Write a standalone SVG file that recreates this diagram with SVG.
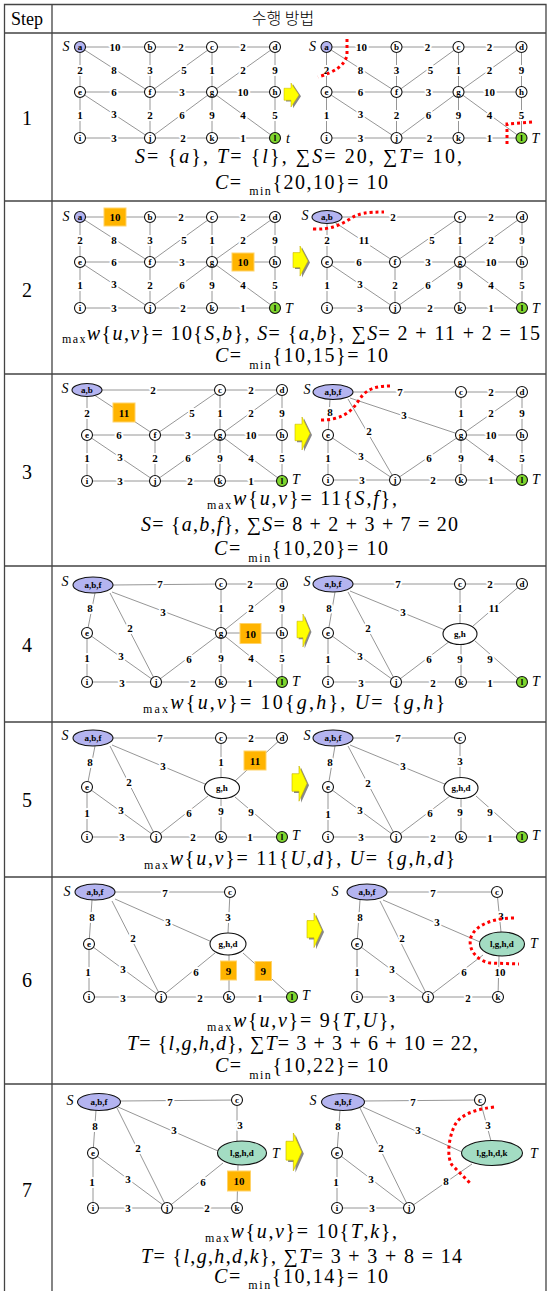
<svg xmlns="http://www.w3.org/2000/svg" xmlns:xlink="http://www.w3.org/1999/xlink" width="551" height="1291" viewBox="0 0 551 1291">
<style>
.tb{stroke:#444;stroke-width:1.3;fill:none}
.ed line{stroke:#8a8a8a;stroke-width:0.9}
.lb{font-family:"Liberation Serif","Times New Roman",serif;font-weight:bold;font-size:11px;text-anchor:middle;dominant-baseline:central;paint-order:stroke;stroke:#fff;stroke-width:4px;stroke-linejoin:round}
.bx{fill:#ffb400;stroke:#ffd36a;stroke-width:1}
.bt{font-family:"Liberation Serif","Times New Roman",serif;font-weight:bold;font-size:11px;text-anchor:middle;dominant-baseline:central}
.nd circle,.nd ellipse{fill:#fff;stroke:#111;stroke-width:1.1}
.nd .sv{fill:#b4b4f0}
.nd .tv{fill:#7fd62e}
.nd .tg{fill:#a3dcc3}
.nt{font-family:"Liberation Serif","Times New Roman",serif;font-weight:bold;font-size:9px;text-anchor:middle;dominant-baseline:central}
.st{font-family:"Liberation Serif","Times New Roman",serif;font-style:italic;font-size:14px;text-anchor:middle;dominant-baseline:central}
.cut{fill:none;stroke:#f00;stroke-width:3;stroke-dasharray:3 3}
.f{font-family:"Liberation Serif","Times New Roman",serif;font-size:20px}
.i{font-style:italic}
.s{font-size:12px}
.num{font-family:"Liberation Serif","Times New Roman",serif;font-size:20px;text-anchor:middle}
</style>
<defs>
<g id="arrow"><polygon points="2,8.5 9,8.5 9,1.5 17,17.5 9,33.5 9,24.5 2,24.5" fill="#888"/><polygon points="0,7 7,7 7,0 15,16 7,32 7,23 0,23" fill="#ffff00" stroke="#c8b400" stroke-width="0.6"/></g>
</defs>
<rect width="551" height="1291" fill="#fff"/>
<g id="table">
<path class="tb" d="M4.5,1291V4.5H546V1291M52,4.5V1291M4.5,33H546M4.5,201H546M4.5,374H546M4.5,566H546M4.5,722H546M4.5,877H546M4.5,1084H546"/>
<text x="27" y="25" font-family="Liberation Serif,Times New Roman,serif" font-size="18" text-anchor="middle">Step</text>
<text x="283" y="24" font-family="'Noto Sans CJK KR',sans-serif" font-weight="300" font-size="16" text-anchor="middle">수행 방법</text>
<text class="num" x="27" y="125">1</text>
<text class="num" x="27" y="297">2</text>
<text class="num" x="27" y="479">3</text>
<text class="num" x="27" y="652">4</text>
<text class="num" x="27" y="807">5</text>
<text class="num" x="27" y="987">6</text>
<text class="num" x="27" y="1197">7</text>
</g>
<g id="arrows">
<use xlink:href="#arrow" transform="translate(284,83) scale(1,0.75)"/>
<use xlink:href="#arrow" transform="translate(293,246) scale(1,0.94)"/>
<use xlink:href="#arrow" transform="translate(295,417) scale(1,1.03)"/>
<use xlink:href="#arrow" transform="translate(297,614) scale(0.85,1.03)"/>
<use xlink:href="#arrow" transform="translate(292,766) scale(1,1.1)"/>
<use xlink:href="#arrow" transform="translate(307,913) scale(1,1.08)"/>
<use xlink:href="#arrow" transform="translate(286,1133) scale(1.05,1.18)"/>
</g>

<!-- Step 1 left -->
<g id="g1L">
<g class="ed" id="e1L">
<line x1="80" y1="47" x2="150" y2="47"/><line x1="150" y1="47" x2="212" y2="47"/><line x1="212" y1="47" x2="275" y2="47"/>
<line x1="80" y1="47" x2="80" y2="92"/><line x1="80" y1="47" x2="150" y2="92"/><line x1="150" y1="47" x2="150" y2="92"/><line x1="212" y1="47" x2="150" y2="92"/><line x1="212" y1="47" x2="212" y2="92"/><line x1="275" y1="47" x2="212" y2="92"/><line x1="275" y1="47" x2="275" y2="92"/>
<line x1="80" y1="92" x2="150" y2="92"/><line x1="150" y1="92" x2="212" y2="92"/><line x1="212" y1="92" x2="275" y2="92"/>
<line x1="80" y1="92" x2="80" y2="138"/><line x1="80" y1="92" x2="150" y2="138"/><line x1="150" y1="92" x2="150" y2="138"/><line x1="212" y1="92" x2="150" y2="138"/><line x1="212" y1="92" x2="212" y2="138"/><line x1="212" y1="92" x2="275" y2="138"/><line x1="275" y1="92" x2="275" y2="138"/>
<line x1="80" y1="138" x2="150" y2="138"/><line x1="150" y1="138" x2="212" y2="138"/><line x1="212" y1="138" x2="275" y2="138"/>
<text class="lb" x="115" y="47">10</text><text class="lb" x="181" y="47">2</text><text class="lb" x="243" y="47">2</text>
<text class="lb" x="80" y="69.5">2</text><text class="lb" x="114" y="69.5">8</text><text class="lb" x="150" y="69.5">3</text><text class="lb" x="184" y="69.5">5</text><text class="lb" x="212" y="69.5">1</text><text class="lb" x="243" y="69.5">2</text><text class="lb" x="275" y="69.5">9</text>
<text class="lb" x="114" y="92">6</text><text class="lb" x="182" y="92">3</text><text class="lb" x="243" y="92">10</text>
<text class="lb" x="80" y="115">1</text><text class="lb" x="114" y="114">3</text><text class="lb" x="150" y="115">2</text><text class="lb" x="182" y="115">6</text><text class="lb" x="212" y="115">9</text><text class="lb" x="243" y="115">4</text><text class="lb" x="275" y="115">5</text>
<text class="lb" x="114" y="138">3</text><text class="lb" x="183" y="138">2</text><text class="lb" x="243" y="138">1</text>
</g>
<g id="n1L-a" class="nd"><circle class="sv" cx="80" cy="47" r="5.5"/><text class="nt" x="80" y="47">a</text></g>
<g id="n1L-b" class="nd"><circle cx="150" cy="47" r="5.5"/><text class="nt" x="150" y="47">b</text></g>
<g id="n1L-c" class="nd"><circle cx="212" cy="47" r="5.5"/><text class="nt" x="212" y="47">c</text></g>
<g id="n1L-d" class="nd"><circle cx="275" cy="47" r="5.5"/><text class="nt" x="275" y="47">d</text></g>
<g id="n1L-e" class="nd"><circle cx="80" cy="92" r="5.5"/><text class="nt" x="80" y="92">e</text></g>
<g id="n1L-f" class="nd"><circle cx="150" cy="92" r="5.5"/><text class="nt" x="150" y="92">f</text></g>
<g id="n1L-g" class="nd"><circle cx="212" cy="92" r="5.5"/><text class="nt" x="212" y="92">g</text></g>
<g id="n1L-h" class="nd"><circle cx="275" cy="92" r="5.5"/><text class="nt" x="275" y="92">h</text></g>
<g id="n1L-i" class="nd"><circle cx="80" cy="138" r="5.5"/><text class="nt" x="80" y="138">i</text></g>
<g id="n1L-j" class="nd"><circle cx="150" cy="138" r="5.5"/><text class="nt" x="150" y="138">j</text></g>
<g id="n1L-k" class="nd"><circle cx="212" cy="138" r="5.5"/><text class="nt" x="212" y="138">k</text></g>
<g id="n1L-l" class="nd"><circle class="tv" cx="275" cy="138" r="5.5"/><text class="nt" x="275" y="138">l</text></g>
<text class="st" x="66" y="46">S</text><text class="st" x="288" y="138">t</text>
</g>

<!-- Step 1 right -->
<g id="g1R" transform="translate(246.5,0)">
<g class="ed" id="e1R">
<line x1="80" y1="47" x2="150" y2="47"/><line x1="150" y1="47" x2="212" y2="47"/><line x1="212" y1="47" x2="275" y2="47"/>
<line x1="80" y1="47" x2="80" y2="92"/><line x1="80" y1="47" x2="150" y2="92"/><line x1="150" y1="47" x2="150" y2="92"/><line x1="212" y1="47" x2="150" y2="92"/><line x1="212" y1="47" x2="212" y2="92"/><line x1="275" y1="47" x2="212" y2="92"/><line x1="275" y1="47" x2="275" y2="92"/>
<line x1="80" y1="92" x2="150" y2="92"/><line x1="150" y1="92" x2="212" y2="92"/><line x1="212" y1="92" x2="275" y2="92"/>
<line x1="80" y1="92" x2="80" y2="138"/><line x1="80" y1="92" x2="150" y2="138"/><line x1="150" y1="92" x2="150" y2="138"/><line x1="212" y1="92" x2="150" y2="138"/><line x1="212" y1="92" x2="212" y2="138"/><line x1="212" y1="92" x2="275" y2="138"/><line x1="275" y1="92" x2="275" y2="138"/>
<line x1="80" y1="138" x2="150" y2="138"/><line x1="150" y1="138" x2="212" y2="138"/><line x1="212" y1="138" x2="275" y2="138"/>
<text class="lb" x="115" y="47">10</text><text class="lb" x="181" y="47">2</text><text class="lb" x="243" y="47">2</text>
<text class="lb" x="80" y="69.5">2</text><text class="lb" x="114" y="69.5">8</text><text class="lb" x="150" y="69.5">3</text><text class="lb" x="184" y="69.5">5</text><text class="lb" x="212" y="69.5">1</text><text class="lb" x="243" y="69.5">2</text><text class="lb" x="275" y="69.5">9</text>
<text class="lb" x="114" y="92">6</text><text class="lb" x="182" y="92">3</text><text class="lb" x="243" y="92">10</text>
<text class="lb" x="80" y="115">1</text><text class="lb" x="114" y="114">3</text><text class="lb" x="150" y="115">2</text><text class="lb" x="182" y="115">6</text><text class="lb" x="212" y="115">9</text><text class="lb" x="243" y="115">4</text><text class="lb" x="275" y="115">5</text>
<text class="lb" x="114" y="138">3</text><text class="lb" x="183" y="138">2</text><text class="lb" x="243" y="138">1</text>
</g>
<g id="n1R-a" class="nd"><circle class="sv" cx="80" cy="47" r="5.5"/><text class="nt" x="80" y="47">a</text></g>
<g id="n1R-b" class="nd"><circle cx="150" cy="47" r="5.5"/><text class="nt" x="150" y="47">b</text></g>
<g id="n1R-c" class="nd"><circle cx="212" cy="47" r="5.5"/><text class="nt" x="212" y="47">c</text></g>
<g id="n1R-d" class="nd"><circle cx="275" cy="47" r="5.5"/><text class="nt" x="275" y="47">d</text></g>
<g id="n1R-e" class="nd"><circle cx="80" cy="92" r="5.5"/><text class="nt" x="80" y="92">e</text></g>
<g id="n1R-f" class="nd"><circle cx="150" cy="92" r="5.5"/><text class="nt" x="150" y="92">f</text></g>
<g id="n1R-g" class="nd"><circle cx="212" cy="92" r="5.5"/><text class="nt" x="212" y="92">g</text></g>
<g id="n1R-h" class="nd"><circle cx="275" cy="92" r="5.5"/><text class="nt" x="275" y="92">h</text></g>
<g id="n1R-i" class="nd"><circle cx="80" cy="138" r="5.5"/><text class="nt" x="80" y="138">i</text></g>
<g id="n1R-j" class="nd"><circle cx="150" cy="138" r="5.5"/><text class="nt" x="150" y="138">j</text></g>
<g id="n1R-k" class="nd"><circle cx="212" cy="138" r="5.5"/><text class="nt" x="212" y="138">k</text></g>
<g id="n1R-l" class="nd"><circle class="tv" cx="275" cy="138" r="5.5"/><text class="nt" x="275" y="138">l</text></g>
<text class="st" x="66" y="46">S</text><text class="st" x="289" y="138">T</text>
</g>
<g id="cuts1"><path class="cut" d="M347,39 L347,55 C345,65 335,72 318,77"/><path class="cut" d="M532,122 L507,124 L507,146"/></g>

<!-- Step 2 left -->
<g id="g2L" transform="translate(0,170)">
<g class="ed" id="e2L">
<line x1="80" y1="47" x2="150" y2="47"/><line x1="150" y1="47" x2="212" y2="47"/><line x1="212" y1="47" x2="275" y2="47"/>
<line x1="80" y1="47" x2="80" y2="92"/><line x1="80" y1="47" x2="150" y2="92"/><line x1="150" y1="47" x2="150" y2="92"/><line x1="212" y1="47" x2="150" y2="92"/><line x1="212" y1="47" x2="212" y2="92"/><line x1="275" y1="47" x2="212" y2="92"/><line x1="275" y1="47" x2="275" y2="92"/>
<line x1="80" y1="92" x2="150" y2="92"/><line x1="150" y1="92" x2="212" y2="92"/><line x1="212" y1="92" x2="275" y2="92"/>
<line x1="80" y1="92" x2="80" y2="138"/><line x1="80" y1="92" x2="150" y2="138"/><line x1="150" y1="92" x2="150" y2="138"/><line x1="212" y1="92" x2="150" y2="138"/><line x1="212" y1="92" x2="212" y2="138"/><line x1="212" y1="92" x2="275" y2="138"/><line x1="275" y1="92" x2="275" y2="138"/>
<line x1="80" y1="138" x2="150" y2="138"/><line x1="150" y1="138" x2="212" y2="138"/><line x1="212" y1="138" x2="275" y2="138"/>
<rect class="bx" x="104" y="38" width="22" height="18"/><text class="bt" x="115" y="47">10</text>
<text class="lb" x="181" y="47">2</text><text class="lb" x="243" y="47">2</text>
<text class="lb" x="80" y="69.5">2</text><text class="lb" x="114" y="69.5">8</text><text class="lb" x="150" y="69.5">3</text><text class="lb" x="184" y="69.5">5</text><text class="lb" x="212" y="69.5">1</text><text class="lb" x="243" y="69.5">2</text><text class="lb" x="275" y="69.5">9</text>
<text class="lb" x="114" y="92">6</text><text class="lb" x="182" y="92">3</text>
<rect class="bx" x="232" y="83" width="22" height="18"/><text class="bt" x="243" y="92">10</text>
<text class="lb" x="80" y="115">1</text><text class="lb" x="114" y="114">3</text><text class="lb" x="150" y="115">2</text><text class="lb" x="182" y="115">6</text><text class="lb" x="212" y="115">9</text><text class="lb" x="243" y="115">4</text><text class="lb" x="275" y="115">5</text>
<text class="lb" x="114" y="138">3</text><text class="lb" x="183" y="138">2</text><text class="lb" x="243" y="138">1</text>
</g>
<g id="n2L-a" class="nd"><circle class="sv" cx="80" cy="47" r="5.5"/><text class="nt" x="80" y="47">a</text></g>
<g id="n2L-b" class="nd"><circle cx="150" cy="47" r="5.5"/><text class="nt" x="150" y="47">b</text></g>
<g id="n2L-c" class="nd"><circle cx="212" cy="47" r="5.5"/><text class="nt" x="212" y="47">c</text></g>
<g id="n2L-d" class="nd"><circle cx="275" cy="47" r="5.5"/><text class="nt" x="275" y="47">d</text></g>
<g id="n2L-e" class="nd"><circle cx="80" cy="92" r="5.5"/><text class="nt" x="80" y="92">e</text></g>
<g id="n2L-f" class="nd"><circle cx="150" cy="92" r="5.5"/><text class="nt" x="150" y="92">f</text></g>
<g id="n2L-g" class="nd"><circle cx="212" cy="92" r="5.5"/><text class="nt" x="212" y="92">g</text></g>
<g id="n2L-h" class="nd"><circle cx="275" cy="92" r="5.5"/><text class="nt" x="275" y="92">h</text></g>
<g id="n2L-i" class="nd"><circle cx="80" cy="138" r="5.5"/><text class="nt" x="80" y="138">i</text></g>
<g id="n2L-j" class="nd"><circle cx="150" cy="138" r="5.5"/><text class="nt" x="150" y="138">j</text></g>
<g id="n2L-k" class="nd"><circle cx="212" cy="138" r="5.5"/><text class="nt" x="212" y="138">k</text></g>
<g id="n2L-l" class="nd"><circle class="tv" cx="275" cy="138" r="5.5"/><text class="nt" x="275" y="138">l</text></g>
<text class="st" x="66" y="46">S</text><text class="st" x="289" y="138">T</text>
</g>

<!-- Step 2 right -->
<g id="g2R">
<g class="ed" id="e2R">
<line x1="341" y1="217" x2="460" y2="217"/><line x1="460" y1="217" x2="522" y2="217"/>
<line x1="327" y1="223" x2="327" y2="262"/><line x1="335" y1="222.5" x2="395" y2="262"/><line x1="460" y1="217" x2="395" y2="262"/><line x1="460" y1="217" x2="460" y2="262"/><line x1="522" y1="217" x2="460" y2="262"/><line x1="522" y1="217" x2="522" y2="262"/>
<line x1="327" y1="262" x2="395" y2="262"/><line x1="395" y1="262" x2="460" y2="262"/><line x1="460" y1="262" x2="522" y2="262"/>
<line x1="327" y1="262" x2="327" y2="308"/><line x1="327" y1="262" x2="395" y2="308"/><line x1="395" y1="262" x2="395" y2="308"/><line x1="460" y1="262" x2="395" y2="308"/><line x1="460" y1="262" x2="460" y2="308"/><line x1="460" y1="262" x2="522" y2="308"/><line x1="522" y1="262" x2="522" y2="308"/>
<line x1="327" y1="308" x2="395" y2="308"/><line x1="395" y1="308" x2="460" y2="308"/><line x1="460" y1="308" x2="522" y2="308"/>
<text class="lb" x="393" y="217">2</text><text class="lb" x="491" y="217">2</text>
<text class="lb" x="327" y="239.5">2</text><text class="lb" x="364" y="240">11</text><text class="lb" x="432" y="239.5">5</text><text class="lb" x="460" y="239.5">1</text><text class="lb" x="491" y="239.5">2</text><text class="lb" x="522" y="239.5">9</text>
<text class="lb" x="359" y="262">6</text><text class="lb" x="428" y="262">3</text><text class="lb" x="491" y="262">10</text>
<text class="lb" x="327" y="285">1</text><text class="lb" x="360" y="284">3</text><text class="lb" x="395" y="285">2</text><text class="lb" x="428" y="285">6</text><text class="lb" x="460" y="285">9</text><text class="lb" x="491" y="285">4</text><text class="lb" x="522" y="285">5</text>
<text class="lb" x="360" y="308">3</text><text class="lb" x="430" y="308">2</text><text class="lb" x="491" y="308">1</text>
</g>
<g id="n2R-ab" class="nd"><ellipse class="sv" cx="327" cy="217" rx="15" ry="6.5"/><text class="nt" x="327" y="217">a,b</text></g>
<g id="n2R-c" class="nd"><circle cx="460" cy="217" r="5.5"/><text class="nt" x="460" y="217">c</text></g>
<g id="n2R-d" class="nd"><circle cx="522" cy="217" r="5.5"/><text class="nt" x="522" y="217">d</text></g>
<g id="n2R-e" class="nd"><circle cx="327" cy="262" r="5.5"/><text class="nt" x="327" y="262">e</text></g>
<g id="n2R-f" class="nd"><circle cx="395" cy="262" r="5.5"/><text class="nt" x="395" y="262">f</text></g>
<g id="n2R-g" class="nd"><circle cx="460" cy="262" r="5.5"/><text class="nt" x="460" y="262">g</text></g>
<g id="n2R-h" class="nd"><circle cx="522" cy="262" r="5.5"/><text class="nt" x="522" y="262">h</text></g>
<g id="n2R-i" class="nd"><circle cx="327" cy="308" r="5.5"/><text class="nt" x="327" y="308">i</text></g>
<g id="n2R-j" class="nd"><circle cx="395" cy="308" r="5.5"/><text class="nt" x="395" y="308">j</text></g>
<g id="n2R-k" class="nd"><circle cx="460" cy="308" r="5.5"/><text class="nt" x="460" y="308">k</text></g>
<g id="n2R-l" class="nd"><circle class="tv" cx="522" cy="308" r="5.5"/><text class="nt" x="522" y="308">l</text></g>
<text class="st" x="305" y="215">S</text><text class="st" x="536" y="308">T</text>
</g>
<g id="cuts2"><path class="cut" d="M313,229 C330,230 340,225 350,219 C358,213 368,212 384,212"/></g>

<!-- Step 3 left -->
<g id="g3L" transform="translate(-240,173)">
<g class="ed" id="e3L">
<line x1="341" y1="217" x2="460" y2="217"/><line x1="460" y1="217" x2="522" y2="217"/>
<line x1="327" y1="223" x2="327" y2="262"/><line x1="335" y1="222.5" x2="395" y2="262"/><line x1="460" y1="217" x2="395" y2="262"/><line x1="460" y1="217" x2="460" y2="262"/><line x1="522" y1="217" x2="460" y2="262"/><line x1="522" y1="217" x2="522" y2="262"/>
<line x1="327" y1="262" x2="395" y2="262"/><line x1="395" y1="262" x2="460" y2="262"/><line x1="460" y1="262" x2="522" y2="262"/>
<line x1="327" y1="262" x2="327" y2="308"/><line x1="327" y1="262" x2="395" y2="308"/><line x1="395" y1="262" x2="395" y2="308"/><line x1="460" y1="262" x2="395" y2="308"/><line x1="460" y1="262" x2="460" y2="308"/><line x1="460" y1="262" x2="522" y2="308"/><line x1="522" y1="262" x2="522" y2="308"/>
<line x1="327" y1="308" x2="395" y2="308"/><line x1="395" y1="308" x2="460" y2="308"/><line x1="460" y1="308" x2="522" y2="308"/>
<text class="lb" x="393" y="217">2</text><text class="lb" x="491" y="217">2</text>
<text class="lb" x="327" y="239.5">2</text>
<rect class="bx" x="353" y="230" width="22" height="19"/><text class="bt" x="364" y="239.5">11</text>
<text class="lb" x="432" y="239.5">5</text><text class="lb" x="460" y="239.5">1</text><text class="lb" x="491" y="239.5">2</text><text class="lb" x="522" y="239.5">9</text>
<text class="lb" x="359" y="262">6</text><text class="lb" x="428" y="262">3</text><text class="lb" x="491" y="262">10</text>
<text class="lb" x="327" y="285">1</text><text class="lb" x="360" y="284">3</text><text class="lb" x="395" y="285">2</text><text class="lb" x="428" y="285">6</text><text class="lb" x="460" y="285">9</text><text class="lb" x="491" y="285">4</text><text class="lb" x="522" y="285">5</text>
<text class="lb" x="360" y="308">3</text><text class="lb" x="430" y="308">2</text><text class="lb" x="491" y="308">1</text>
</g>
<g id="n3L-ab" class="nd"><ellipse class="sv" cx="327" cy="217" rx="15" ry="6.5"/><text class="nt" x="327" y="217">a,b</text></g>
<g id="n3L-c" class="nd"><circle cx="460" cy="217" r="5.5"/><text class="nt" x="460" y="217">c</text></g>
<g id="n3L-d" class="nd"><circle cx="522" cy="217" r="5.5"/><text class="nt" x="522" y="217">d</text></g>
<g id="n3L-e" class="nd"><circle cx="327" cy="262" r="5.5"/><text class="nt" x="327" y="262">e</text></g>
<g id="n3L-f" class="nd"><circle cx="395" cy="262" r="5.5"/><text class="nt" x="395" y="262">f</text></g>
<g id="n3L-g" class="nd"><circle cx="460" cy="262" r="5.5"/><text class="nt" x="460" y="262">g</text></g>
<g id="n3L-h" class="nd"><circle cx="522" cy="262" r="5.5"/><text class="nt" x="522" y="262">h</text></g>
<g id="n3L-i" class="nd"><circle cx="327" cy="308" r="5.5"/><text class="nt" x="327" y="308">i</text></g>
<g id="n3L-j" class="nd"><circle cx="395" cy="308" r="5.5"/><text class="nt" x="395" y="308">j</text></g>
<g id="n3L-k" class="nd"><circle cx="460" cy="308" r="5.5"/><text class="nt" x="460" y="308">k</text></g>
<g id="n3L-l" class="nd"><circle class="tv" cx="522" cy="308" r="5.5"/><text class="nt" x="522" y="308">l</text></g>
<text class="st" x="305" y="215">S</text><text class="st" x="536" y="306">T</text>
</g>

<!-- Step 3 right -->
<g id="g3R">
<g class="ed" id="e3R">
<line x1="353" y1="392" x2="461" y2="392"/><line x1="461" y1="392" x2="522" y2="392"/>
<line x1="330" y1="399" x2="328" y2="435"/><line x1="350" y1="398" x2="461" y2="435"/><line x1="348" y1="399" x2="395" y2="480"/>
<line x1="461" y1="392" x2="461" y2="435"/><line x1="522" y1="392" x2="461" y2="435"/><line x1="522" y1="392" x2="522" y2="435"/><line x1="461" y1="435" x2="522" y2="435"/>
<line x1="328" y1="435" x2="328" y2="480"/><line x1="328" y1="435" x2="395" y2="480"/><line x1="461" y1="435" x2="395" y2="480"/><line x1="461" y1="435" x2="461" y2="480"/><line x1="461" y1="435" x2="522" y2="480"/><line x1="522" y1="435" x2="522" y2="480"/>
<line x1="328" y1="480" x2="395" y2="480"/><line x1="395" y1="480" x2="461" y2="480"/><line x1="461" y1="480" x2="522" y2="480"/>
<text class="lb" x="400" y="392">7</text><text class="lb" x="491" y="392">2</text>
<text class="lb" x="330" y="412">8</text><text class="lb" x="404" y="415">3</text><text class="lb" x="369" y="431">2</text>
<text class="lb" x="461" y="413">1</text><text class="lb" x="491" y="413">2</text><text class="lb" x="522" y="413">9</text><text class="lb" x="491" y="435">10</text>
<text class="lb" x="328" y="458">1</text><text class="lb" x="361" y="456">3</text><text class="lb" x="429" y="458">6</text><text class="lb" x="461" y="458">9</text><text class="lb" x="491" y="458">4</text><text class="lb" x="522" y="458">5</text>
<text class="lb" x="362" y="480">3</text><text class="lb" x="433" y="480">2</text><text class="lb" x="491" y="480">1</text>
</g>
<g id="n3R-abf" class="nd"><ellipse class="sv" cx="333" cy="392" rx="20" ry="7.5"/><text class="nt" x="333" y="392">a,b,f</text></g>
<g id="n3R-c" class="nd"><circle cx="461" cy="392" r="5.5"/><text class="nt" x="461" y="392">c</text></g>
<g id="n3R-d" class="nd"><circle cx="522" cy="392" r="5.5"/><text class="nt" x="522" y="392">d</text></g>
<g id="n3R-e" class="nd"><circle cx="328" cy="435" r="5.5"/><text class="nt" x="328" y="435">e</text></g>
<g id="n3R-g" class="nd"><circle cx="461" cy="435" r="5.5"/><text class="nt" x="461" y="435">g</text></g>
<g id="n3R-h" class="nd"><circle cx="522" cy="435" r="5.5"/><text class="nt" x="522" y="435">h</text></g>
<g id="n3R-i" class="nd"><circle cx="328" cy="480" r="5.5"/><text class="nt" x="328" y="480">i</text></g>
<g id="n3R-j" class="nd"><circle cx="395" cy="480" r="5.5"/><text class="nt" x="395" y="480">j</text></g>
<g id="n3R-k" class="nd"><circle cx="461" cy="480" r="5.5"/><text class="nt" x="461" y="480">k</text></g>
<g id="n3R-l" class="nd"><circle class="tv" cx="522" cy="480" r="5.5"/><text class="nt" x="522" y="480">l</text></g>
<text class="st" x="307" y="389">S</text><text class="st" x="536" y="479">T</text>
</g>
<g id="cuts3"><path class="cut" d="M321,420 C340,420 350,413 357,403 C364,392 370,386 390,386"/></g>

<!-- Step 4 left -->
<g id="g4L">
<g class="ed" id="e4L">
<line x1="113" y1="585" x2="221" y2="584"/><line x1="221" y1="584" x2="282" y2="584"/>
<line x1="95" y1="593" x2="87" y2="633"/><line x1="110" y1="593" x2="156" y2="682"/><line x1="112" y1="592" x2="221" y2="633"/>
<line x1="221" y1="584" x2="221" y2="633"/><line x1="282" y1="584" x2="221" y2="633"/><line x1="282" y1="584" x2="282" y2="633"/><line x1="221" y1="633" x2="282" y2="633"/>
<line x1="87" y1="633" x2="87" y2="682"/><line x1="87" y1="633" x2="156" y2="682"/><line x1="221" y1="633" x2="156" y2="682"/><line x1="221" y1="633" x2="221" y2="682"/><line x1="221" y1="633" x2="282" y2="682"/><line x1="282" y1="633" x2="282" y2="682"/>
<line x1="87" y1="682" x2="156" y2="682"/><line x1="156" y1="682" x2="221" y2="682"/><line x1="221" y1="682" x2="282" y2="682"/>
<text class="lb" x="160" y="584">7</text><text class="lb" x="250" y="584">2</text>
<text class="lb" x="90" y="608">8</text><text class="lb" x="130" y="628">2</text><text class="lb" x="163" y="612">3</text>
<text class="lb" x="221" y="608">1</text><text class="lb" x="251" y="608">2</text><text class="lb" x="282" y="608">9</text>
<rect class="bx" x="240" y="623.5" width="21" height="20"/><text class="bt" x="250.5" y="633.5">10</text>
<text class="lb" x="87" y="658">1</text><text class="lb" x="121" y="656">3</text><text class="lb" x="189" y="659">6</text><text class="lb" x="221" y="658">9</text><text class="lb" x="251" y="658">4</text><text class="lb" x="282" y="658">5</text>
<text class="lb" x="122" y="683">3</text><text class="lb" x="193" y="683">2</text><text class="lb" x="250" y="683">1</text>
</g>
<g id="n4L-abf" class="nd"><ellipse class="sv" cx="93" cy="585" rx="20" ry="8"/><text class="nt" x="93" y="585">a,b,f</text></g>
<g id="n4L-c" class="nd"><circle cx="221" cy="584" r="5.5"/><text class="nt" x="221" y="584">c</text></g>
<g id="n4L-d" class="nd"><circle cx="282" cy="584" r="5.5"/><text class="nt" x="282" y="584">d</text></g>
<g id="n4L-e" class="nd"><circle cx="87" cy="633" r="5.5"/><text class="nt" x="87" y="633">e</text></g>
<g id="n4L-g" class="nd"><circle cx="221" cy="633" r="5.5"/><text class="nt" x="221" y="633">g</text></g>
<g id="n4L-h" class="nd"><circle cx="282" cy="633" r="5.5"/><text class="nt" x="282" y="633">h</text></g>
<g id="n4L-i" class="nd"><circle cx="87" cy="682" r="5.5"/><text class="nt" x="87" y="682">i</text></g>
<g id="n4L-j" class="nd"><circle cx="156" cy="682" r="5.5"/><text class="nt" x="156" y="682">j</text></g>
<g id="n4L-k" class="nd"><circle cx="221" cy="682" r="5.5"/><text class="nt" x="221" y="682">k</text></g>
<g id="n4L-l" class="nd"><circle class="tv" cx="282" cy="682" r="5.5"/><text class="nt" x="282" y="682">l</text></g>
<text class="st" x="65" y="581">S</text><text class="st" x="296" y="681">T</text>
</g>

<!-- Step 4 right -->
<g id="g4R">
<g class="ed" id="e4R">
<line x1="353" y1="584" x2="460" y2="584"/><line x1="460" y1="584" x2="522" y2="584"/>
<line x1="335" y1="592" x2="328" y2="633"/><line x1="348" y1="592" x2="396" y2="682"/><line x1="350" y1="591" x2="445" y2="630"/>
<line x1="460" y1="584" x2="460" y2="624"/><line x1="522" y1="584" x2="473" y2="626"/>
<line x1="328" y1="633" x2="328" y2="682"/><line x1="328" y1="633" x2="396" y2="682"/><line x1="450" y1="641" x2="396" y2="682"/><line x1="461" y1="644" x2="461" y2="682"/><line x1="475" y1="641" x2="522" y2="682"/>
<line x1="328" y1="682" x2="396" y2="682"/><line x1="396" y1="682" x2="461" y2="682"/><line x1="461" y1="682" x2="522" y2="682"/>
<text class="lb" x="398" y="584">7</text><text class="lb" x="490" y="584">2</text>
<text class="lb" x="329" y="608">8</text><text class="lb" x="368" y="628">2</text><text class="lb" x="403" y="612">3</text>
<text class="lb" x="460" y="608">1</text><text class="lb" x="494" y="608">11</text>
<text class="lb" x="328" y="659">1</text><text class="lb" x="360" y="656">3</text><text class="lb" x="429" y="659">6</text><text class="lb" x="460" y="659">9</text><text class="lb" x="490" y="659">9</text>
<text class="lb" x="361" y="683">3</text><text class="lb" x="433" y="683">2</text><text class="lb" x="490" y="683">1</text>
</g>
<g id="n4R-abf" class="nd"><ellipse class="sv" cx="333" cy="584" rx="20" ry="8"/><text class="nt" x="333" y="584">a,b,f</text></g>
<g id="n4R-c" class="nd"><circle cx="460" cy="584" r="5.5"/><text class="nt" x="460" y="584">c</text></g>
<g id="n4R-d" class="nd"><circle cx="522" cy="584" r="5.5"/><text class="nt" x="522" y="584">d</text></g>
<g id="n4R-e" class="nd"><circle cx="328" cy="633" r="5.5"/><text class="nt" x="328" y="633">e</text></g>
<g id="n4R-gh" class="nd"><ellipse cx="460" cy="634" rx="17" ry="10.5"/><text class="nt" x="460" y="634">g,h</text></g>
<g id="n4R-i" class="nd"><circle cx="328" cy="682" r="5.5"/><text class="nt" x="328" y="682">i</text></g>
<g id="n4R-j" class="nd"><circle cx="396" cy="682" r="5.5"/><text class="nt" x="396" y="682">j</text></g>
<g id="n4R-k" class="nd"><circle cx="461" cy="682" r="5.5"/><text class="nt" x="461" y="682">k</text></g>
<g id="n4R-l" class="nd"><circle class="tv" cx="522" cy="682" r="5.5"/><text class="nt" x="522" y="682">l</text></g>
<text class="st" x="307" y="581">S</text><text class="st" x="536" y="681">T</text>
</g>

<!-- Step 5 left -->
<g id="g5L">
<g class="ed" id="e5L">
<line x1="113" y1="738" x2="221" y2="738"/><line x1="221" y1="738" x2="282" y2="738"/>
<line x1="95" y1="746" x2="87" y2="787"/><line x1="110" y1="746" x2="156" y2="837"/><line x1="112" y1="745" x2="205" y2="784"/>
<line x1="221" y1="738" x2="221" y2="778"/><line x1="282" y1="738" x2="235" y2="781"/>
<line x1="87" y1="787" x2="87" y2="837"/><line x1="87" y1="787" x2="156" y2="837"/><line x1="208" y1="796" x2="156" y2="837"/><line x1="221" y1="798" x2="221" y2="837"/><line x1="235" y1="797" x2="282" y2="837"/>
<line x1="87" y1="837" x2="156" y2="837"/><line x1="156" y1="837" x2="221" y2="837"/><line x1="221" y1="837" x2="282" y2="837"/>
<text class="lb" x="160" y="738">7</text><text class="lb" x="251" y="738">2</text>
<text class="lb" x="90" y="762">8</text><text class="lb" x="129" y="782">2</text><text class="lb" x="163" y="766">3</text><text class="lb" x="221" y="762">1</text>
<rect class="bx" x="244" y="751" width="22" height="19"/><text class="bt" x="255" y="760.5">11</text>
<text class="lb" x="87" y="813">1</text><text class="lb" x="121" y="810">3</text><text class="lb" x="189" y="813">6</text><text class="lb" x="221" y="811">9</text><text class="lb" x="251" y="812">9</text>
<text class="lb" x="122" y="837">3</text><text class="lb" x="193" y="837">2</text><text class="lb" x="250" y="837">1</text>
</g>
<g id="n5L-abf" class="nd"><ellipse class="sv" cx="93" cy="738" rx="20" ry="8"/><text class="nt" x="93" y="738">a,b,f</text></g>
<g id="n5L-c" class="nd"><circle cx="221" cy="738" r="5.5"/><text class="nt" x="221" y="738">c</text></g>
<g id="n5L-d" class="nd"><circle cx="282" cy="738" r="5.5"/><text class="nt" x="282" y="738">d</text></g>
<g id="n5L-e" class="nd"><circle cx="87" cy="787" r="5.5"/><text class="nt" x="87" y="787">e</text></g>
<g id="n5L-gh" class="nd"><ellipse cx="222" cy="788" rx="17.5" ry="10.5"/><text class="nt" x="222" y="788">g,h</text></g>
<g id="n5L-i" class="nd"><circle cx="87" cy="837" r="5.5"/><text class="nt" x="87" y="837">i</text></g>
<g id="n5L-j" class="nd"><circle cx="156" cy="837" r="5.5"/><text class="nt" x="156" y="837">j</text></g>
<g id="n5L-k" class="nd"><circle cx="221" cy="837" r="5.5"/><text class="nt" x="221" y="837">k</text></g>
<g id="n5L-l" class="nd"><circle class="tv" cx="282" cy="837" r="5.5"/><text class="nt" x="282" y="837">l</text></g>
<text class="st" x="65" y="735">S</text><text class="st" x="296" y="835">T</text>
</g>

<!-- Step 5 right -->
<g id="g5R">
<g class="ed" id="e5R">
<line x1="353" y1="738" x2="460" y2="738"/>
<line x1="335" y1="746" x2="328" y2="787"/><line x1="348" y1="746" x2="396" y2="837"/><line x1="350" y1="745" x2="447" y2="785"/>
<line x1="460" y1="738" x2="460" y2="778"/>
<line x1="328" y1="787" x2="328" y2="837"/><line x1="328" y1="787" x2="396" y2="837"/><line x1="450" y1="796" x2="396" y2="837"/><line x1="461" y1="798" x2="461" y2="837"/><line x1="476" y1="796" x2="522" y2="837"/>
<line x1="328" y1="837" x2="396" y2="837"/><line x1="396" y1="837" x2="461" y2="837"/><line x1="461" y1="837" x2="522" y2="837"/>
<text class="lb" x="398" y="738">7</text>
<text class="lb" x="330" y="762">8</text><text class="lb" x="368" y="783">2</text><text class="lb" x="403" y="766">3</text><text class="lb" x="460" y="761">3</text>
<text class="lb" x="328" y="814">1</text><text class="lb" x="360" y="810">3</text><text class="lb" x="430" y="813">6</text><text class="lb" x="460" y="812">9</text><text class="lb" x="490" y="812">9</text>
<text class="lb" x="361" y="837">3</text><text class="lb" x="433" y="838">2</text><text class="lb" x="490" y="838">1</text>
</g>
<g id="n5R-abf" class="nd"><ellipse class="sv" cx="333" cy="738" rx="20" ry="8"/><text class="nt" x="333" y="738">a,b,f</text></g>
<g id="n5R-c" class="nd"><circle cx="460" cy="738" r="5.5"/><text class="nt" x="460" y="738">c</text></g>
<g id="n5R-e" class="nd"><circle cx="328" cy="787" r="5.5"/><text class="nt" x="328" y="787">e</text></g>
<g id="n5R-ghd" class="nd"><ellipse cx="461" cy="788" rx="17" ry="10.5"/><text class="nt" x="461" y="788">g,h,d</text></g>
<g id="n5R-i" class="nd"><circle cx="328" cy="837" r="5.5"/><text class="nt" x="328" y="837">i</text></g>
<g id="n5R-j" class="nd"><circle cx="396" cy="837" r="5.5"/><text class="nt" x="396" y="837">j</text></g>
<g id="n5R-k" class="nd"><circle cx="461" cy="837" r="5.5"/><text class="nt" x="461" y="837">k</text></g>
<g id="n5R-l" class="nd"><circle class="tv" cx="522" cy="837" r="5.5"/><text class="nt" x="522" y="837">l</text></g>
<text class="st" x="307" y="735">S</text><text class="st" x="536" y="835">T</text>
</g>

<!-- Step 6 left -->
<g id="g6L">
<g class="ed" id="e6L">
<line x1="115" y1="892" x2="230" y2="892"/>
<line x1="92" y1="900" x2="89" y2="944"/><line x1="112" y1="901" x2="161" y2="997"/><line x1="115" y1="899" x2="212" y2="942"/>
<line x1="230" y1="892" x2="228" y2="933"/>
<line x1="89" y1="944" x2="89" y2="997"/><line x1="89" y1="944" x2="161" y2="997"/><line x1="215" y1="953" x2="161" y2="997"/><line x1="229" y1="955" x2="229" y2="997"/><line x1="243" y1="953" x2="292" y2="997"/>
<line x1="89" y1="997" x2="161" y2="997"/><line x1="161" y1="997" x2="229" y2="997"/><line x1="229" y1="997" x2="292" y2="997"/>
<text class="lb" x="165" y="893">7</text>
<text class="lb" x="92" y="917">8</text><text class="lb" x="133" y="938">2</text><text class="lb" x="168" y="922">3</text><text class="lb" x="228" y="917">3</text>
<text class="lb" x="88" y="972">1</text><text class="lb" x="123" y="969">3</text><text class="lb" x="196" y="972">6</text>
<rect class="bx" x="220.5" y="961" width="16" height="19"/><text class="bt" x="228.5" y="970.5">9</text>
<rect class="bx" x="255" y="961.5" width="16.5" height="19"/><text class="bt" x="263.3" y="971">9</text>
<text class="lb" x="123" y="998">3</text><text class="lb" x="200" y="998">2</text><text class="lb" x="260" y="998">1</text>
</g>
<g id="n6L-abf" class="nd"><ellipse class="sv" cx="95" cy="892" rx="20" ry="8"/><text class="nt" x="95" y="892">a,b,f</text></g>
<g id="n6L-c" class="nd"><circle cx="230" cy="892" r="5.5"/><text class="nt" x="230" y="892">c</text></g>
<g id="n6L-e" class="nd"><circle cx="89" cy="944" r="5.5"/><text class="nt" x="89" y="944">e</text></g>
<g id="n6L-ghd" class="nd"><ellipse cx="228" cy="944" rx="18" ry="11"/><text class="nt" x="228" y="944">g,h,d</text></g>
<g id="n6L-i" class="nd"><circle cx="89" cy="997" r="5.5"/><text class="nt" x="89" y="997">i</text></g>
<g id="n6L-j" class="nd"><circle cx="161" cy="997" r="5.5"/><text class="nt" x="161" y="997">j</text></g>
<g id="n6L-k" class="nd"><circle cx="229" cy="997" r="5.5"/><text class="nt" x="229" y="997">k</text></g>
<g id="n6L-l" class="nd"><circle class="tv" cx="292" cy="997" r="5.5"/><text class="nt" x="292" y="997">l</text></g>
<text class="st" x="67" y="891">S</text><text class="st" x="306" y="995">T</text>
</g>

<!-- Step 6 right -->
<g id="g6R">
<g class="ed" id="e6R">
<line x1="387" y1="892" x2="497" y2="892"/>
<line x1="360" y1="900" x2="357" y2="944"/><line x1="380" y1="901" x2="428" y2="997"/><line x1="383" y1="900" x2="480" y2="942"/>
<line x1="497" y1="892" x2="501" y2="932"/>
<line x1="357" y1="944" x2="357" y2="997"/><line x1="357" y1="944" x2="428" y2="997"/><line x1="483" y1="955" x2="428" y2="997"/><line x1="499" y1="956" x2="498" y2="997"/>
<line x1="357" y1="997" x2="428" y2="997"/><line x1="428" y1="997" x2="498" y2="997"/>
<text class="lb" x="433" y="893">7</text>
<text class="lb" x="360" y="917">8</text><text class="lb" x="402" y="938">2</text><text class="lb" x="437" y="922">3</text><text class="lb" x="501" y="916">3</text>
<text class="lb" x="357" y="972">1</text><text class="lb" x="392" y="969">3</text><text class="lb" x="464" y="972">6</text><text class="lb" x="500" y="972">10</text>
<text class="lb" x="392" y="998">3</text><text class="lb" x="468" y="998">2</text>
</g>
<g id="n6R-abf" class="nd"><ellipse class="sv" cx="367" cy="892" rx="20" ry="8"/><text class="nt" x="367" y="892">a,b,f</text></g>
<g id="n6R-c" class="nd"><circle cx="497" cy="892" r="5.5"/><text class="nt" x="497" y="892">c</text></g>
<g id="n6R-e" class="nd"><circle cx="357" cy="944" r="5.5"/><text class="nt" x="357" y="944">e</text></g>
<g id="n6R-lghd" class="nd"><ellipse class="tg" cx="502" cy="944" rx="22.5" ry="12"/><text class="nt" x="502" y="944">l,g,h,d</text></g>
<g id="n6R-i" class="nd"><circle cx="357" cy="997" r="5.5"/><text class="nt" x="357" y="997">i</text></g>
<g id="n6R-j" class="nd"><circle cx="428" cy="997" r="5.5"/><text class="nt" x="428" y="997">j</text></g>
<g id="n6R-k" class="nd"><circle cx="498" cy="997" r="5.5"/><text class="nt" x="498" y="997">k</text></g>
<text class="st" x="335" y="891">S</text><text class="st" x="534" y="943">T</text>
</g>
<g id="cuts6"><path class="cut" d="M514,918 C495,918 476,924 471,937 C467,950 478,961 490,963 L519,964"/></g>

<!-- Step 7 left -->
<g id="g7L">
<g class="ed" id="e7L">
<line x1="120" y1="1101" x2="237" y2="1100"/>
<line x1="96" y1="1110" x2="93" y2="1153"/><line x1="117" y1="1108" x2="167" y2="1208"/><line x1="118" y1="1107" x2="218" y2="1151"/>
<line x1="237" y1="1100" x2="237" y2="1141"/>
<line x1="93" y1="1153" x2="93" y2="1208"/><line x1="93" y1="1153" x2="167" y2="1208"/><line x1="223" y1="1163" x2="167" y2="1208"/><line x1="238" y1="1165" x2="237" y2="1208"/>
<line x1="93" y1="1208" x2="167" y2="1208"/><line x1="167" y1="1208" x2="237" y2="1208"/>
<text class="lb" x="170" y="1102">7</text>
<text class="lb" x="95" y="1126">8</text><text class="lb" x="138" y="1148">2</text><text class="lb" x="174" y="1130">3</text><text class="lb" x="240" y="1125">3</text>
<text class="lb" x="92" y="1182">1</text><text class="lb" x="128" y="1179">3</text><text class="lb" x="203" y="1182">6</text>
<rect class="bx" x="227.5" y="1171" width="23" height="20"/><text class="bt" x="239" y="1181">10</text>
<text class="lb" x="128" y="1208">3</text><text class="lb" x="207" y="1208">2</text>
</g>
<g id="n7L-abf" class="nd"><ellipse class="sv" cx="99" cy="1102" rx="21.5" ry="8.5"/><text class="nt" x="99" y="1102">a,b,f</text></g>
<g id="n7L-c" class="nd"><circle cx="237" cy="1100" r="5.5"/><text class="nt" x="237" y="1100">c</text></g>
<g id="n7L-e" class="nd"><circle cx="93" cy="1153" r="5.5"/><text class="nt" x="93" y="1153">e</text></g>
<g id="n7L-lghd" class="nd"><ellipse class="tg" cx="242" cy="1153" rx="24.5" ry="12"/><text class="nt" x="242" y="1153">l,g,h,d</text></g>
<g id="n7L-i" class="nd"><circle cx="93" cy="1208" r="5.5"/><text class="nt" x="93" y="1208">i</text></g>
<g id="n7L-j" class="nd"><circle cx="167" cy="1208" r="5.5"/><text class="nt" x="167" y="1208">j</text></g>
<g id="n7L-k" class="nd"><circle cx="237" cy="1208" r="5.5"/><text class="nt" x="237" y="1208">k</text></g>
<text class="st" x="70" y="1100">S</text><text class="st" x="276" y="1153">T</text>
</g>

<!-- Step 7 right -->
<g id="g7R">
<g class="ed" id="e7R">
<line x1="364" y1="1101" x2="480" y2="1100"/>
<line x1="340" y1="1110" x2="337" y2="1153"/><line x1="360" y1="1108" x2="409" y2="1208"/><line x1="363" y1="1107" x2="462" y2="1152"/>
<line x1="480" y1="1100" x2="491" y2="1141"/>
<line x1="337" y1="1153" x2="337" y2="1208"/><line x1="337" y1="1153" x2="409" y2="1208"/><line x1="472" y1="1164" x2="409" y2="1208"/>
<line x1="337" y1="1208" x2="409" y2="1208"/>
<text class="lb" x="413" y="1102">7</text>
<text class="lb" x="338" y="1126">8</text><text class="lb" x="381" y="1148">2</text><text class="lb" x="418" y="1130">3</text><text class="lb" x="488" y="1125">3</text>
<text class="lb" x="336" y="1182">1</text><text class="lb" x="371" y="1179">3</text><text class="lb" x="446" y="1181">8</text>
<text class="lb" x="372" y="1208">3</text>
</g>
<g id="n7R-abf" class="nd"><ellipse class="sv" cx="343" cy="1102" rx="21.5" ry="8.5"/><text class="nt" x="343" y="1102">a,b,f</text></g>
<g id="n7R-c" class="nd"><circle cx="480" cy="1100" r="5.5"/><text class="nt" x="480" y="1100">c</text></g>
<g id="n7R-e" class="nd"><circle cx="337" cy="1153" r="5.5"/><text class="nt" x="337" y="1153">e</text></g>
<g id="n7R-lghdk" class="nd"><ellipse class="tg" cx="492" cy="1153" rx="30.5" ry="12.5"/><text class="nt" x="492" y="1153">l,g,h,d,k</text></g>
<g id="n7R-i" class="nd"><circle cx="337" cy="1208" r="5.5"/><text class="nt" x="337" y="1208">i</text></g>
<g id="n7R-j" class="nd"><circle cx="409" cy="1208" r="5.5"/><text class="nt" x="409" y="1208">j</text></g>
<text class="st" x="313" y="1100">S</text><text class="st" x="534" y="1153">T</text>
</g>
<g id="cuts7"><path class="cut" d="M494,1107 C470,1110 458,1117 454,1127 C448,1140 447,1158 452,1165 L471,1184"/></g>

<!-- formulas -->
<g id="formulas">
<text class="f" x="135" y="163" textLength="327" lengthAdjust="spacing"><tspan class="i">S</tspan>= {<tspan class="i">a</tspan>}, <tspan class="i">T</tspan>= {<tspan class="i">l</tspan>}, ∑<tspan class="i">S</tspan>= 20, ∑<tspan class="i">T</tspan>= 10,</text>
<text class="f" x="215" y="189" textLength="173" lengthAdjust="spacing"><tspan class="i">C</tspan>= <tspan class="s" dy="6">min</tspan><tspan dy="-6">{20,10}= 10</tspan></text>

<text class="f" x="62" y="340" textLength="478" lengthAdjust="spacing"><tspan class="s" dy="3">max</tspan><tspan class="i" dy="-3">w</tspan>{<tspan class="i">u</tspan>,<tspan class="i">v</tspan>}= 10{<tspan class="i">S</tspan>,<tspan class="i">b</tspan>},  <tspan class="i">S</tspan>= {<tspan class="i">a</tspan>,<tspan class="i">b</tspan>}, ∑<tspan class="i">S</tspan>= 2 + 11 + 2 = 15</text>
<text class="f" x="215" y="362" textLength="173" lengthAdjust="spacing"><tspan class="i">C</tspan>= <tspan class="s" dy="7">min</tspan><tspan dy="-7">{10,15}= 10</tspan></text>

<text class="f" x="207" y="505" textLength="190" lengthAdjust="spacing"><tspan class="s" dy="4">max</tspan><tspan class="i" dy="-4">w</tspan>{<tspan class="i">u</tspan>,<tspan class="i">v</tspan>}= 11{<tspan class="i">S</tspan>,<tspan class="i">f</tspan>},</text>
<text class="f" x="141" y="531" textLength="317" lengthAdjust="spacing"><tspan class="i">S</tspan>= {<tspan class="i">a</tspan>,<tspan class="i">b</tspan>,<tspan class="i">f</tspan>}, ∑<tspan class="i">S</tspan>= 8 + 2 + 3 + 7 = 20</text>
<text class="f" x="214" y="555" textLength="174" lengthAdjust="spacing"><tspan class="i">C</tspan>= <tspan class="s" dy="7">min</tspan><tspan dy="-7">{10,20}= 10</tspan></text>

<text class="f" x="143" y="709" textLength="302" lengthAdjust="spacing"><tspan class="s" dy="4">max</tspan><tspan class="i" dy="-4">w</tspan>{<tspan class="i">u</tspan>,<tspan class="i">v</tspan>}= 10{<tspan class="i">g</tspan>,<tspan class="i">h</tspan>},  <tspan class="i">U</tspan>= {<tspan class="i">g</tspan>,<tspan class="i">h</tspan>}</text>

<text class="f" x="144" y="865" textLength="311" lengthAdjust="spacing"><tspan class="s" dy="4">max</tspan><tspan class="i" dy="-4">w</tspan>{<tspan class="i">u</tspan>,<tspan class="i">v</tspan>}= 11{<tspan class="i">U</tspan>,<tspan class="i">d</tspan>},  <tspan class="i">U</tspan>= {<tspan class="i">g</tspan>,<tspan class="i">h</tspan>,<tspan class="i">d</tspan>}</text>

<text class="f" x="207" y="1027" textLength="188" lengthAdjust="spacing"><tspan class="s" dy="4">max</tspan><tspan class="i" dy="-4">w</tspan>{<tspan class="i">u</tspan>,<tspan class="i">v</tspan>}= 9{<tspan class="i">T</tspan>,<tspan class="i">U</tspan>},</text>
<text class="f" x="127" y="1050" textLength="351" lengthAdjust="spacing"><tspan class="i">T</tspan>= {<tspan class="i">l</tspan>,<tspan class="i">g</tspan>,<tspan class="i">h</tspan>,<tspan class="i">d</tspan>}, ∑<tspan class="i">T</tspan>= 3 + 3 + 6 + 10 = 22,</text>
<text class="f" x="215" y="1072" textLength="173" lengthAdjust="spacing"><tspan class="i">C</tspan>= <tspan class="s" dy="7">min</tspan><tspan dy="-7">{10,22}= 10</tspan></text>

<text class="f" x="205" y="1238" textLength="192" lengthAdjust="spacing"><tspan class="s" dy="4">max</tspan><tspan class="i" dy="-4">w</tspan>{<tspan class="i">u</tspan>,<tspan class="i">v</tspan>}= 10{<tspan class="i">T</tspan>,<tspan class="i">k</tspan>},</text>
<text class="f" x="141" y="1263" textLength="321" lengthAdjust="spacing"><tspan class="i">T</tspan>= {<tspan class="i">l</tspan>,<tspan class="i">g</tspan>,<tspan class="i">h</tspan>,<tspan class="i">d</tspan>,<tspan class="i">k</tspan>}, ∑<tspan class="i">T</tspan>= 3 + 3 + 8 = 14</text>
<text class="f" x="214" y="1283" textLength="174" lengthAdjust="spacing"><tspan class="i">C</tspan>= <tspan class="s" dy="6">min</tspan><tspan dy="-6">{10,14}= 10</tspan></text>
</g>
</svg>
